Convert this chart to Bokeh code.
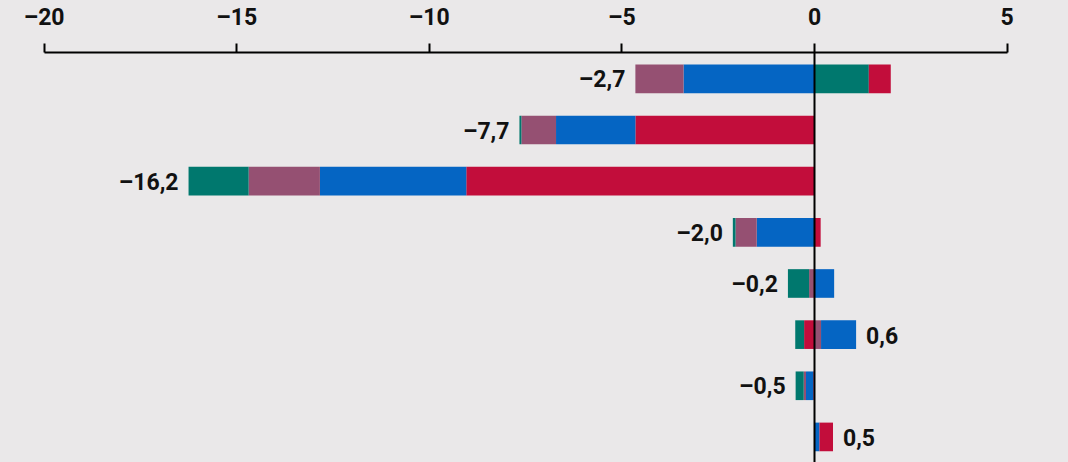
from bokeh.plotting import figure
from bokeh.models import Range1d, FixedTicker, Span, ColumnDataSource
from bokeh.embed import file_html
from bokeh.resources import INLINE
from bokeh.core.properties import value

# ---- data (rows top to bottom) ----
rows = [0, 1, 2, 3, 4, 5, 6, 7]
teal   = [1.41, -0.05, -1.56, -0.07, -0.55, -0.23, -0.21, 0.00]
purple = [-1.25, -0.90, -1.85, -0.55, -0.14, 0.17, -0.06, 0.00]
blue   = [-3.40, -2.06, -3.80, -1.50, 0.51, 0.91, -0.19, 0.13]
red    = [0.57, -4.65, -9.04, 0.16, 0.00, -0.27, -0.03, 0.35]
totals = [-2.7, -7.7, -16.2, -2.0, -0.2, 0.6, -0.5, 0.5]
tick_values = [-20, -15, -10, -5, 0, 5]

BG = "#EAE8E9"
FONT = "Roboto"
series = [("teal", teal, "#00786E"), ("purple", purple, "#955072"),
          ("blue", blue, "#0565C3"), ("red", red, "#C20D3B")]

p = figure(width=1068, height=462, output_backend="svg", toolbar_location=None,
           x_range=Range1d(-21.132, 6.594), y_range=Range1d(7.5, -0.516),
           x_axis_location="above", y_axis_location=None,
           min_border_left=0, min_border_right=0, min_border_bottom=0, min_border_top=50)
p.background_fill_color = BG
p.border_fill_color = BG
p.outline_line_color = None
p.xgrid.visible = False
p.ygrid.visible = False

# stacking: positives from zero outward in series order,
# negatives from zero outward in reversed order
pos_acc = [0.0] * len(rows)
for name, vals, col in series:
    l, r, yy = [], [], []
    for i, v in enumerate(vals):
        if v > 0:
            l.append(pos_acc[i]); r.append(pos_acc[i] + v); yy.append(rows[i])
            pos_acc[i] += v
    if yy:
        p.hbar(y=yy, left=l, right=r, height=0.56, fill_color=col, line_color=None)
neg_acc = [0.0] * len(rows)
for name, vals, col in reversed(series):
    l, r, yy = [], [], []
    for i, v in enumerate(vals):
        if v < 0:
            r.append(neg_acc[i]); l.append(neg_acc[i] + v); yy.append(rows[i])
            neg_acc[i] += v
    if yy:
        p.hbar(y=yy, left=l, right=r, height=0.56, fill_color=col, line_color=None)

def fmt(t):
    s = f"{abs(t):.1f}".replace(".", ",")
    return ("–" + s) if t < 0 else s

neg_src = ColumnDataSource(dict(x=[neg_acc[i] for i in rows if totals[i] < 0],
                                y=[rows[i] for i in rows if totals[i] < 0],
                                t=[fmt(totals[i]) for i in rows if totals[i] < 0]))
pos_src = ColumnDataSource(dict(x=[pos_acc[i] for i in rows if totals[i] >= 0],
                                y=[rows[i] for i in rows if totals[i] >= 0],
                                t=[fmt(totals[i]) for i in rows if totals[i] >= 0]))
for src, align, off in [(neg_src, "right", -10), (pos_src, "left", 10)]:
    p.text(x="x", y="y", text="t", source=src, text_align=align, text_baseline="middle",
           x_offset=off, y_offset=1, text_font=value(FONT), text_font_size="23px",
           text_font_style="bold", text_color="#111111")

p.add_layout(Span(location=0, dimension="height", line_color="black", line_width=2))

ax = p.xaxis[0]
ax.ticker = FixedTicker(ticks=tick_values)
ax.major_label_overrides = {v: fmt(v).replace(",0", "") for v in tick_values}
ax.bounds = (-20, 5)
ax.axis_line_color = "black"
ax.axis_line_width = 2
ax.major_tick_line_color = "black"
ax.major_tick_line_width = 2
ax.major_tick_out = 9
ax.major_tick_in = 0
ax.minor_tick_line_color = None
ax.major_label_standoff = 13
ax.major_label_text_font = FONT
ax.major_label_text_font_size = "23px"
ax.major_label_text_font_style = "bold"
ax.major_label_text_color = "#111111"

html = file_html(p, INLINE)
html = html.replace("</head>", "<style>html,body{background:%s;}</style></head>" % BG, 1)
open("out.html", "w").write(html)
